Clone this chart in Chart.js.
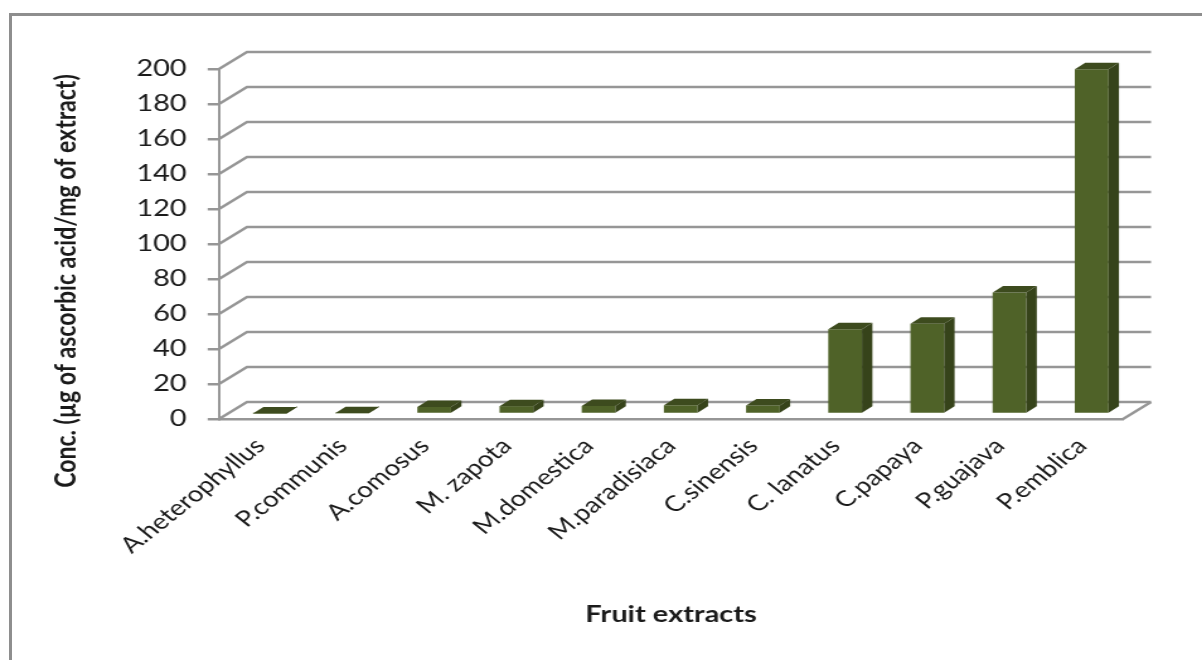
<!DOCTYPE html>
<html>
<head>
<meta charset="utf-8">
<title>Fruit extracts</title>
<script src="https://cdn.jsdelivr.net/npm/chart.js@4.4.1/dist/chart.umd.min.js"></script>
<style>
  html, body { margin: 0; padding: 0; background: #fff; overflow: hidden; }
  /* outer frame of the figure, only top and left edges are inside the picture */
  #frame { position: absolute; left: 9px; top: 13px; width: 1400px; height: 800px;
           border-top: 3px solid #8e8e8e; border-left: 3px solid #8e8e8e; }
  /* the original figure is stretched horizontally, so the chart is too */
  #wrap { position: absolute; left: 0; top: 0; width: 954px; height: 660px;
          transform: scaleX(1.26); transform-origin: 0 0; }
</style>
</head>
<body>
<div id="frame"></div>
<div id="wrap"><canvas id="chart"></canvas></div>
<script>
// data
const fruits = ['A.heterophyllus', 'P.communis', 'A.comosus', 'M. zapota', 'M.domestica',
                'M.paradisiaca', 'C.sinensis', 'C. lanatus', 'C.papaya', 'P.guajava', 'P.emblica'];
const concentration = [0.3, 0.5, 4.0, 4.5, 4.6, 5.0, 4.9, 48.5, 51.6, 69.4, 197];
const yTicks = [0, 20, 40, 60, 80, 100, 120, 140, 160, 180, 200];
const xTitle = 'Fruit extracts';
const yTitle = 'Conc. (\u00b5g of ascorbic acid/mg of extract)';

// look of the 3d box (in canvas px, before the stretch)
const GRID_COLOR = '#969696';
const FRONT_COLOR = '#4f6228';
const SIDE_COLOR = '#36431a';
const TOP_COLOR = '#3d4b1e';
const WALL = { dx: 22.2, dy: -17 };     // back wall offset
const BAR_OFF = { dx: 7.7, dy: -5 };    // bars stand a bit into the floor
const BAR_DEPTH = { dx: 8.3, dy: -6.5 };
const FONT = 'Lato';

const box3d = {
    id: 'box3d',
    beforeDatasetsDraw: function (chart) {
        const ctx = chart.ctx;
        const area = chart.chartArea;
        const y = chart.scales.y;
        ctx.save();
        ctx.strokeStyle = GRID_COLOR;
        ctx.lineWidth = 2.4;
        y.ticks.forEach(function (t) {
            const py = y.getPixelForValue(t.value);
            ctx.beginPath();
            ctx.moveTo(area.left, py);
            ctx.lineTo(area.left + WALL.dx, py + WALL.dy);
            ctx.lineTo(area.right + WALL.dx, py + WALL.dy);
            ctx.stroke();
        });
        // right edge of the floor
        ctx.beginPath();
        ctx.moveTo(area.right, area.bottom);
        ctx.lineTo(area.right + WALL.dx, area.bottom + WALL.dy);
        ctx.stroke();
        ctx.restore();

        // front faces are drawn by chart.js, just pushed back a little
        ctx.save();
        ctx.translate(BAR_OFF.dx, BAR_OFF.dy);
    },
    afterDatasetsDraw: function (chart) {
        const ctx = chart.ctx;
        chart.getDatasetMeta(0).data.forEach(function (bar) {
            const l = bar.x - bar.width / 2;
            const r = bar.x + bar.width / 2;
            // top
            ctx.fillStyle = TOP_COLOR;
            ctx.beginPath();
            ctx.moveTo(l, bar.y);
            ctx.lineTo(l + BAR_DEPTH.dx, bar.y + BAR_DEPTH.dy);
            ctx.lineTo(r + BAR_DEPTH.dx, bar.y + BAR_DEPTH.dy);
            ctx.lineTo(r, bar.y);
            ctx.closePath();
            ctx.fill();
            // side
            ctx.fillStyle = SIDE_COLOR;
            ctx.beginPath();
            ctx.moveTo(r, bar.y);
            ctx.lineTo(r + BAR_DEPTH.dx, bar.y + BAR_DEPTH.dy);
            ctx.lineTo(r + BAR_DEPTH.dx, bar.base + BAR_DEPTH.dy);
            ctx.lineTo(r, bar.base);
            ctx.closePath();
            ctx.fill();
        });
        ctx.restore();
    },
    afterDraw: function (chart) {
        // y title sits lower than the axis centre in the original
        const ctx = chart.ctx;
        ctx.save();
        ctx.translate(53, 281);
        ctx.rotate(-Math.PI / 2);
        ctx.font = 'bold 23px ' + FONT;
        ctx.fillStyle = '#1a1a1a';
        ctx.textAlign = 'center';
        ctx.textBaseline = 'middle';
        ctx.fillText(yTitle, 0, 0);
        ctx.restore();
    }
};

new Chart(document.getElementById('chart'), {
    type: 'bar',
    data: {
        labels: fruits,
        datasets: [{
            data: concentration,
            backgroundColor: FRONT_COLOR,
            borderWidth: 0,
            barPercentage: 0.41,
            categoryPercentage: 1,
            clip: false
        }]
    },
    options: {
        responsive: true,
        maintainAspectRatio: false,
        animation: false,
        layout: { padding: { left: 0, top: 69, right: 62.7, bottom: 0 } },
        plugins: {
            legend: { display: false },
            tooltip: { enabled: false }
        },
        scales: {
            x: {
                grid: { drawOnChartArea: false, drawTicks: false },
                border: { display: true, color: GRID_COLOR, width: 2.5 },
                ticks: {
                    autoSkip: false,
                    minRotation: 45,
                    maxRotation: 45,
                    padding: 14,
                    color: '#1a1a1a',
                    font: { family: FONT, size: 22 }
                },
                title: {
                    display: true,
                    text: xTitle,
                    color: '#1a1a1a',
                    font: { family: FONT, size: 23, weight: 'bold' },
                    padding: { top: 0, bottom: 32 }
                },
                afterFit: function (scale) { scale.height = 241; }
            },
            y: {
                min: 0,
                max: 200,
                afterBuildTicks: function (scale) {
                    scale.ticks = yTicks.map(function (v) { return { value: v }; });
                },
                grid: { drawOnChartArea: false, drawTicks: true, tickLength: 9, color: GRID_COLOR, lineWidth: 2.5 },
                border: { display: true, color: GRID_COLOR, width: 2 },
                ticks: {
                    padding: 16.6,
                    color: '#1a1a1a',
                    font: { family: FONT, size: 23 }
                },
                afterFit: function (scale) { scale.width = 173.8; }
            }
        }
    },
    plugins: [box3d]
});
</script>
</body>
</html>
